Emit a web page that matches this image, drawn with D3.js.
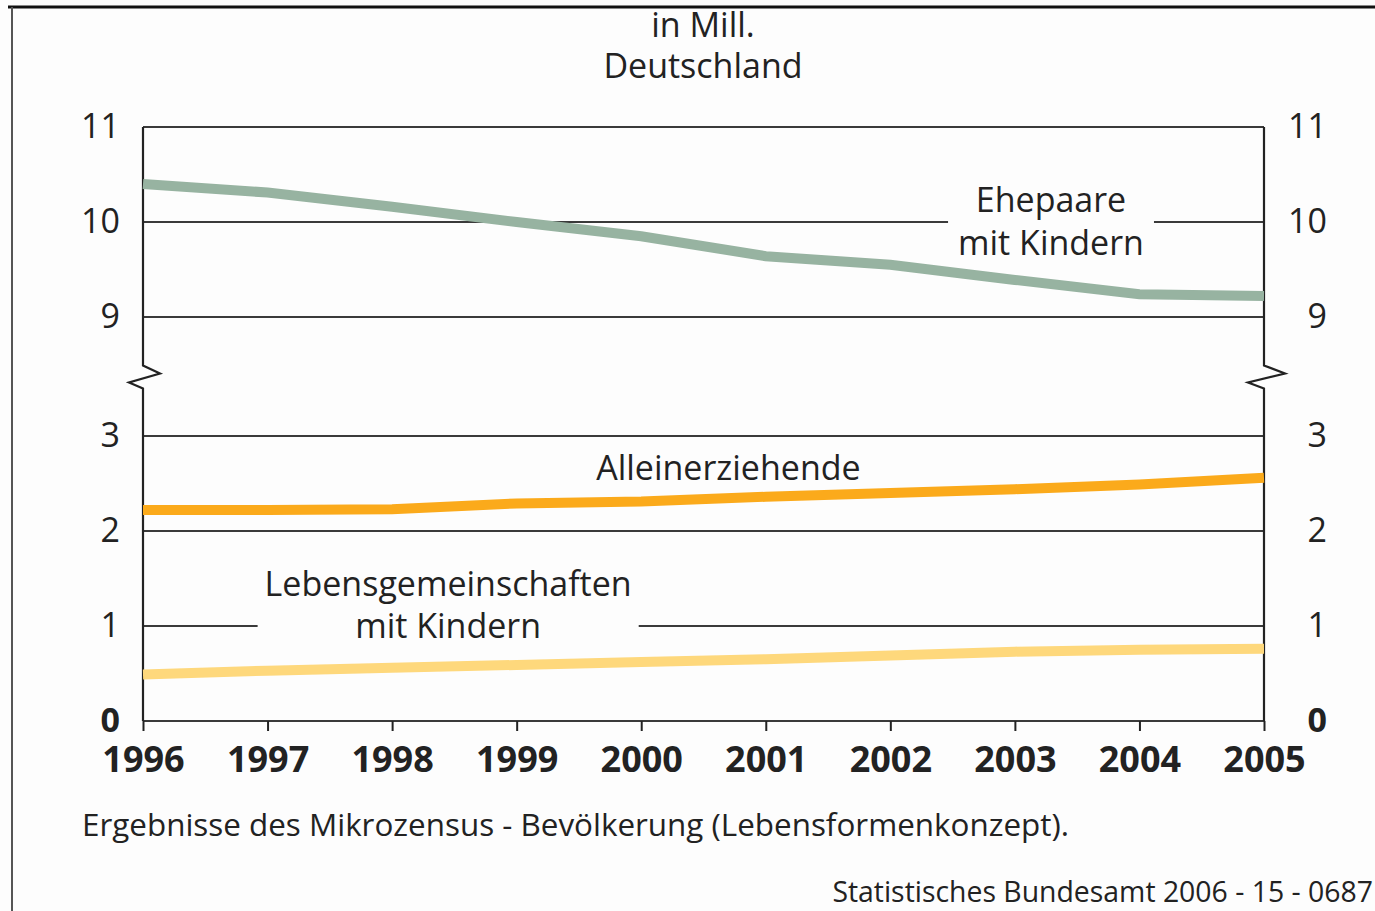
<!DOCTYPE html>
<html lang="de">
<head>
<meta charset="utf-8">
<script src="https://d3js.org/d3.v7.min.js"></script>
<style>
  body { margin: 0; background: #fdfdfd; }
  svg { display: block; font-family: "Open Sans", sans-serif; }
  .axis text { fill: #222; }
  .grid line { stroke: #3a3a3a; stroke-width: 2; }
</style>
</head>
<body>
<script>
// years on the x axis
var years = [1996, 1997, 1998, 1999, 2000, 2001, 2002, 2003, 2004, 2005];
// in Mill.
var ehepaare = [10.40, 10.31, 10.16, 10.00, 9.85, 9.64, 9.55, 9.39, 9.24, 9.22];
var alleinerziehende = [2.22, 2.22, 2.23, 2.29, 2.31, 2.36, 2.40, 2.44, 2.49, 2.56];
var lebensgemeinschaften = [0.49, 0.53, 0.56, 0.59, 0.62, 0.65, 0.69, 0.73, 0.75, 0.76];
// y tick values (axis is broken between 3 and 9)
var yTicks = [0, 1, 2, 3, 9, 10, 11];

var width = 1375, height = 911;
var left = 143, right = 1264;

var svg = d3.select("body").append("svg")
    .attr("width", width)
    .attr("height", height);

// outer frame (top and left edge)
svg.append("line").attr("x1", 8).attr("x2", width).attr("y1", 7).attr("y2", 7)
    .attr("stroke", "#111").attr("stroke-width", 3);
svg.append("line").attr("x1", 12).attr("x2", 12).attr("y1", 7).attr("y2", height)
    .attr("stroke", "#555").attr("stroke-width", 2);

var x = d3.scaleLinear().domain([1996, 2005]).range([left, right]);
// piecewise scale: same px per unit on both parts, gap between 3 and 9
var y = d3.scaleLinear().domain([0, 3, 9, 11]).range([721, 436, 317, 127]);

// title
svg.append("text").attr("x", 703).attr("y", 37)
    .attr("text-anchor", "middle").attr("font-size", 34).attr("fill", "#222")
    .text("in Mill.");
svg.append("text").attr("x", 703).attr("y", 78)
    .attr("text-anchor", "middle").attr("font-size", 34).attr("fill", "#222")
    .text("Deutschland");

// horizontal grid lines
svg.append("g").attr("class", "grid")
  .selectAll("line")
  .data(yTicks)
  .enter().append("line")
    .attr("x1", left).attr("x2", right)
    .attr("y1", function(d) { return y(d); })
    .attr("y2", function(d) { return y(d); });

// vertical axis lines with break marks
var yb = (y(3) + y(9)) / 2;
function brokenAxis(x0, a, b) {
  return "M" + x0 + "," + y(11) + "V" + (yb - 11) +
    "L" + (x0 + a) + "," + (yb - 3) +
    "L" + (x0 - b) + "," + (yb + 6) +
    "L" + x0 + "," + (yb + 12) + "V" + y(0);
}
svg.append("path").attr("d", brokenAxis(left, 17, 14))
    .attr("fill", "none").attr("stroke", "#222").attr("stroke-width", 2.2);
svg.append("path").attr("d", brokenAxis(right, 21, 16))
    .attr("fill", "none").attr("stroke", "#222").attr("stroke-width", 2.2);

// y axes, both sides (right side labels are right aligned too)
var yLeft = svg.append("g").attr("class", "axis")
    .attr("transform", "translate(" + left + ",0)")
    .call(d3.axisLeft(y).tickValues(yTicks).tickSize(0).tickPadding(23));
var yRight = svg.append("g").attr("class", "axis")
    .attr("transform", "translate(" + right + ",0)")
    .call(d3.axisRight(y).tickValues(yTicks).tickSize(0).tickPadding(63));
yRight.selectAll("text").attr("text-anchor", "end");
[yLeft, yRight].forEach(function(g) {
  g.select(".domain").remove();
  g.selectAll("text")
    .attr("font-size", 34)
    .attr("font-family", "Open Sans")
    .attr("dy", "0.3em")
    .attr("font-weight", function(d) { return d === 0 ? "bold" : "normal"; });
});

// x axis
var xAxis = svg.append("g").attr("class", "axis")
    .attr("transform", "translate(0," + y(0) + ")")
    .call(d3.axisBottom(x).tickValues(years).tickFormat(d3.format("d"))
      .tickSize(10).tickSizeOuter(0).tickPadding(15));
xAxis.select(".domain").remove();
xAxis.selectAll("line").attr("stroke", "#222").attr("stroke-width", 2);
xAxis.selectAll("text")
    .attr("font-size", 36)
    .attr("font-family", "Open Sans")
    .attr("font-weight", "bold");

// lines
var series = [
  { name: "Ehepaare", values: ehepaare, color: "#97b3a1" },
  { name: "Alleinerziehende", values: alleinerziehende, color: "#fbaa1b" },
  { name: "Lebensgemeinschaften", values: lebensgemeinschaften, color: "#fed87c" }
];
var line = d3.line()
    .x(function(d, i) { return x(years[i]); })
    .y(function(d) { return y(d); });

// labels sitting on grid lines get a white box so the line is cut
function label(lines, cx, cy, lh, pad) {
  var g = svg.append("g");
  var bg = g.append("rect").attr("fill", "#fdfdfd");
  var t = g.append("text").attr("text-anchor", "middle")
      .attr("font-size", 34).attr("fill", "#222");
  lines.forEach(function(s, i) {
    t.append("tspan").attr("x", cx).attr("y", cy + i * lh).text(s);
  });
  var bb = t.node().getBBox();
  bg.attr("x", bb.x - pad).attr("y", bb.y).attr("width", bb.width + 2 * pad).attr("height", bb.height);
}

label(["Ehepaare", "mit Kindern"], x(2003.29), y(10) - 10, 43, 10);
label(["Lebensgemeinschaften", "mit Kindern"], x(1998.45), y(1) - 30, 42, 7);

svg.append("g").selectAll("path")
  .data(series)
  .enter().append("path")
    .attr("d", function(d) { return line(d.values); })
    .attr("fill", "none")
    .attr("stroke", function(d) { return d.color; })
    .attr("stroke-width", 10);

svg.append("text").attr("x", x(2000.7)).attr("y", y(2.5) - 4)
    .attr("text-anchor", "middle").attr("font-size", 34).attr("fill", "#222")
    .text("Alleinerziehende");

// footer
svg.append("text").attr("x", 82).attr("y", 836)
    .attr("font-size", 31.4).attr("fill", "#222")
    .text("Ergebnisse des Mikrozensus - Bevölkerung (Lebensformenkonzept).");
svg.append("text").attr("x", 1373).attr("y", 902)
    .attr("text-anchor", "end").attr("font-size", 28.4).attr("fill", "#222")
    .text("Statistisches Bundesamt 2006 - 15 - 0687");
</script>
</body>
</html>
